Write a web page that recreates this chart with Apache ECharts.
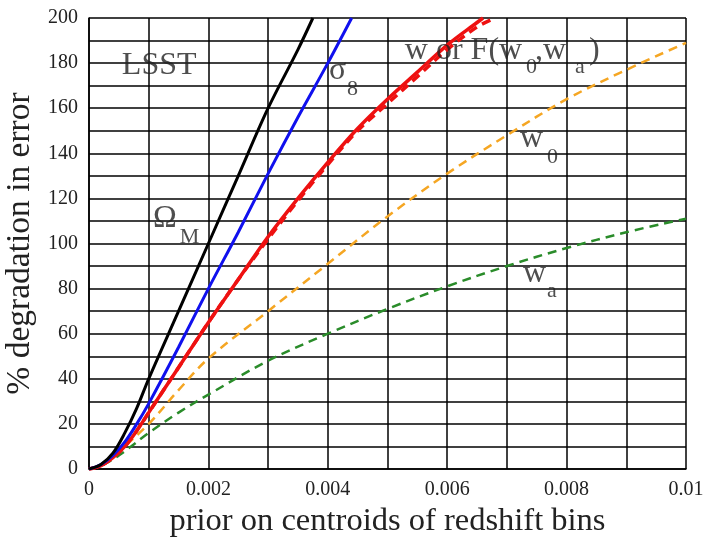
<!DOCTYPE html>
<html><head><meta charset="utf-8">
<script src="https://cdn.jsdelivr.net/npm/echarts@6/dist/echarts.min.js"></script>
<style>html,body{margin:0;padding:0;background:#fff}#c{width:707px;height:537px}</style>
</head><body><div id="c"></div>
<script>
// ---- data ----
var omegaX = [0, 0.0002, 0.0004, 0.0006, 0.0008, 0.001, 0.0015, 0.002, 0.0025, 0.003, 0.0035, 0.00375];
var omegaY = [0, 2, 7, 16, 27, 40, 70, 100, 130, 160, 186, 200];
var sigmaX = [0, 0.0002, 0.0004, 0.0006, 0.0008, 0.001, 0.0015, 0.002, 0.0025, 0.003, 0.0035, 0.004, 0.0044];
var sigmaY = [0, 2, 6, 12, 20, 29, 54, 80, 105, 131, 156, 180, 200];
var wX = [0, 0.0002, 0.0004, 0.0006, 0.0008, 0.001, 0.0015, 0.002, 0.0025, 0.003, 0.0035, 0.004, 0.0045, 0.005, 0.0055, 0.006, 0.0065, 0.0066];
var wY = [0, 1.5, 5, 10, 17, 25, 45, 65, 84, 103, 120, 136, 151, 164, 176, 188, 198, 200];
var fX = [0, 0.0002, 0.0004, 0.0006, 0.0008, 0.001, 0.0015, 0.002, 0.0025, 0.003, 0.0035, 0.004, 0.0045, 0.005, 0.0055, 0.006, 0.0065, 0.0068];
var fY = [0, 1.5, 5, 10, 17, 25, 45, 65, 84, 102, 119, 135, 150, 162, 174, 186, 196, 200];
var w0X = [0, 0.0002, 0.0005, 0.001, 0.0015, 0.002, 0.003, 0.004, 0.005, 0.006, 0.007, 0.008, 0.009, 0.01];
var w0Y = [0, 2, 8, 20, 35, 49, 70, 91, 112, 131, 148, 164, 177, 189];
var waX = [0, 0.0002, 0.0005, 0.001, 0.0015, 0.002, 0.003, 0.004, 0.005, 0.006, 0.007, 0.008, 0.009, 0.01];
var waY = [0, 1.5, 6, 16, 25, 33, 48, 60, 71, 81, 90, 98, 105, 111];
var xTickLabels = ['0', '0.002', '0.004', '0.006', '0.008', '0.01'];
var yTickLabels = ['0', '20', '40', '60', '80', '100', '120', '140', '160', '180', '200'];
// annotations: [x (left edge), y (middle), text, size]
var annotations = [
  [0.00055, 178.7, 'LSST', 32],
  [0.00107, 110.9, 'Ω', 32],
  [0.00152, 102.7, 'M', 22],
  [0.00402, 176.5, 'σ', 32],
  [0.00432, 168.5, '8', 22],
  [0.00529, 185.4, 'w or F(w', 32],
  [0.00732, 178.3, '0', 22],
  [0.00747, 185.4, ',w', 32],
  [0.00814, 178.3, 'a', 22],
  [0.008375, 185.4, ')', 32],
  [0.00722, 146.3, 'w', 32],
  [0.00767, 138.1, '0', 22],
  [0.00727, 86.5, 'w', 32],
  [0.00767, 78.9, 'a', 22]
];

function pairs(xs, ys) { return xs.map(function (x, i) { return [x, ys[i]]; }); }
var FONT = '"Liberation Serif","DejaVu Serif",serif';

var chart = echarts.init(document.getElementById('c'), null, { renderer: 'canvas' });
function line(name, xs, ys, color, width, dashed) {
  return {
    name: name, type: 'line', data: pairs(xs, ys), smooth: 0.35, symbol: 'none',
    clip: true, silent: true,
    lineStyle: { color: color, width: width, type: dashed ? [9, 6] : 'solid' }, z: 5
  };
}
chart.setOption({
  animation: false,
  backgroundColor: '#fff',
  grid: { left: 89, right: 21, top: 18, bottom: 68, show: false, containLabel: false, outerBoundsMode: 'none' },
  xAxis: {
    type: 'value', min: 0, max: 0.01, interval: 0.001,
    name: 'prior on centroids of redshift bins', nameLocation: 'middle', nameGap: 35,
    nameTextStyle: { fontFamily: FONT, fontSize: 32.5, color: '#222' },
    axisLine: { show: true, lineStyle: { color: '#000', width: 1.5 } },
    axisTick: { show: false },
    splitLine: { show: true, lineStyle: { color: '#000', width: 1.5 } },
    axisLabel: {
      fontFamily: FONT, fontSize: 20, color: '#222', margin: 11,
      formatter: function (v) { var k = Math.round(v * 1000); return k % 2 === 0 ? xTickLabels[k / 2] : ''; }
    }
  },
  yAxis: {
    type: 'value', min: 0, max: 200, interval: 10,
    name: '% degradation in error', nameLocation: 'middle', nameGap: 52,
    nameTextStyle: { fontFamily: FONT, fontSize: 33.5, color: '#222' },
    axisLine: { show: true, lineStyle: { color: '#000', width: 1.5 } },
    axisTick: { show: false },
    splitLine: { show: true, lineStyle: { color: '#000', width: 1.5 } },
    axisLabel: {
      fontFamily: FONT, fontSize: 20, color: '#222', margin: 11,
      formatter: function (v) { var k = Math.round(v); return k % 20 === 0 ? yTickLabels[k / 20] : ''; }
    }
  },
  series: [
    line('w0', w0X, w0Y, '#f5a623', 2.5, true),
    line('wa', waX, waY, '#2a8c2a', 2.5, true),
    line('F', fX, fY, '#ee1111', 3.5, true),
    line('w', wX, wY, '#ee1111', 3.5, false),
    line('sigma8', sigmaX, sigmaY, '#1010ee', 3, false),
    line('OmegaM', omegaX, omegaY, '#000000', 3, false),
    {
      type: 'scatter', symbolSize: 0, silent: true, z: 10,
      data: annotations.map(function (a) {
        return {
          value: [a[0], a[1]],
          label: {
            show: true, position: 'inside', align: 'left', verticalAlign: 'middle', formatter: a[2],
            fontFamily: FONT, fontSize: a[3], color: '#222'
          }
        };
      })
    }
  ]
});
</script></body></html>
